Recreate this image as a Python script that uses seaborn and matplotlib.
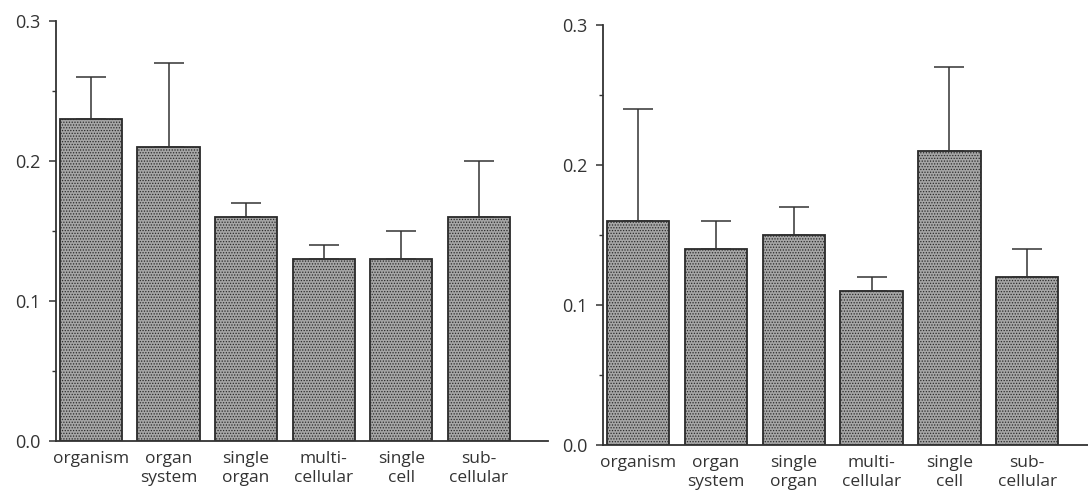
import numpy as np
import matplotlib
matplotlib.use("Agg")
import matplotlib.pyplot as plt
import seaborn as sns
from matplotlib.ticker import MultipleLocator, FormatStrFormatter

sns.set_style("ticks")
plt.rcParams['font.family'] = ['Open Sans', 'DejaVu Sans']
plt.rcParams['hatch.color'] = '#6a6a6a'
plt.rcParams['hatch.linewidth'] = 0.6

# Data
categories = ["organism", "organ\nsystem", "single\norgan",
              "multi-\ncellular", "single\ncell", "sub-\ncellular"]
left_means = [0.23, 0.21, 0.16, 0.13, 0.13, 0.16]
left_upper = [0.26, 0.27, 0.17, 0.14, 0.15, 0.20]
right_means = [0.16, 0.14, 0.15, 0.11, 0.21, 0.12]
right_upper = [0.24, 0.16, 0.17, 0.12, 0.27, 0.14]

fig = plt.figure(figsize=(10.88, 4.96), dpi=100)
ax1 = fig.add_axes([0.0515, 0.111, 0.452, 0.847])
ax2 = fig.add_axes([0.5542, 0.103, 0.4458, 0.847])


def draw_panel(ax, means, upper):
    sns.barplot(x=categories, y=means, ax=ax, color="#a6a6a6",
                saturation=1, width=0.8, edgecolor="#2a2a2a",
                linewidth=1.3, hatch="......")
    pos = np.arange(len(means))
    err = np.array(upper) - np.array(means)
    ax.errorbar(pos, means, yerr=[np.zeros_like(err), err], fmt="none",
                ecolor="#333333", elinewidth=1.1, capsize=11, capthick=1.1,
                zorder=1)
    ax.set_ylim(0, 0.3)
    ax.yaxis.set_major_locator(MultipleLocator(0.1))
    ax.yaxis.set_minor_locator(MultipleLocator(0.05))
    ax.yaxis.set_major_formatter(FormatStrFormatter("%.1f"))
    ax.tick_params(axis="y", which="major", length=5, width=1.1,
                   labelsize=13, pad=6, color="#333333", labelcolor="#333333")
    ax.tick_params(axis="y", which="minor", length=3, width=1.0,
                   color="#333333")
    ax.tick_params(axis="x", length=0, labelsize=12.5, pad=7,
                   labelcolor="#333333")
    for lab in ax.get_xticklabels():
        lab.set_linespacing(1.3)
    ax.set_xlabel("")
    ax.set_ylabel("")
    sns.despine(ax=ax)
    for s in ["left", "bottom"]:
        ax.spines[s].set_linewidth(1.3)
        ax.spines[s].set_color("#333333")


draw_panel(ax1, left_means, left_upper)
ax1.set_xlim(-0.45, 5.89)
draw_panel(ax2, right_means, right_upper)
ax2.set_xlim(-0.45, 5.78)

fig.savefig("out.png", dpi=100)
